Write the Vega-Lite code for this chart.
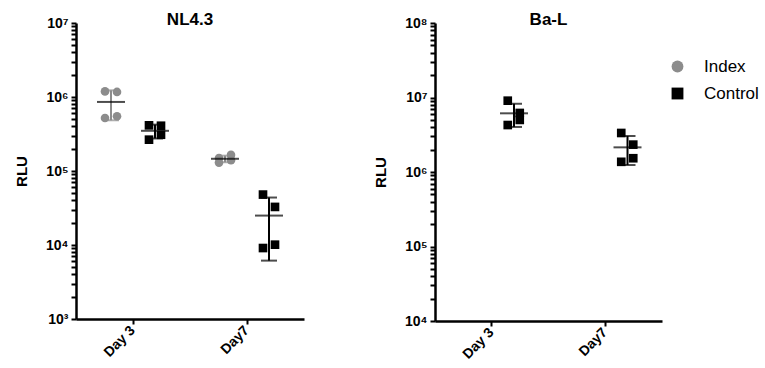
{
  "$schema": "https://vega.github.io/schema/vega-lite/v6.json",
  "background": "white",
  "padding": {"left": 14, "top": 11, "right": 2, "bottom": 5},
  "spacing": 69,
  "config": {
    "font": "Liberation Sans",
    "view": {"stroke": null},
    "axis": {
      "grid": false,
      "domainColor": "black",
      "domainWidth": 2.5,
      "tickColor": "black",
      "tickWidth": 2,
      "tickSize": 5,
      "labelColor": "black",
      "labelFont": "Liberation Sans",
      "labelFontWeight": "bold",
      "labelFontSize": 14,
      "titleColor": "black",
      "titleFont": "Liberation Sans",
      "titleFontWeight": "bold",
      "titleFontSize": 15
    },
    "title": {"font": "Liberation Sans", "fontSize": 17, "fontWeight": "bold", "color": "black", "anchor": "middle"},
    "legend": {"labelFont": "Liberation Sans", "labelFontSize": 17, "labelColor": "black"}
  },
  "datasets": {
    "rlu": [
      {"virus": "NL4.3", "day": "Day 3", "group": "Index", "rep": 1, "rlu": 1190000},
      {"virus": "NL4.3", "day": "Day 3", "group": "Index", "rep": 2, "rlu": 1170000},
      {"virus": "NL4.3", "day": "Day 3", "group": "Index", "rep": 3, "rlu": 520000},
      {"virus": "NL4.3", "day": "Day 3", "group": "Index", "rep": 4, "rlu": 550000},
      {"virus": "NL4.3", "day": "Day 3", "group": "Control", "rep": 1, "rlu": 414000},
      {"virus": "NL4.3", "day": "Day 3", "group": "Control", "rep": 2, "rlu": 409000},
      {"virus": "NL4.3", "day": "Day 3", "group": "Control", "rep": 3, "rlu": 265000},
      {"virus": "NL4.3", "day": "Day 3", "group": "Control", "rep": 4, "rlu": 309000},
      {"virus": "NL4.3", "day": "Day7", "group": "Index", "rep": 1, "rlu": 150000},
      {"virus": "NL4.3", "day": "Day7", "group": "Index", "rep": 2, "rlu": 165000},
      {"virus": "NL4.3", "day": "Day7", "group": "Index", "rep": 3, "rlu": 130000},
      {"virus": "NL4.3", "day": "Day7", "group": "Index", "rep": 4, "rlu": 140000},
      {"virus": "NL4.3", "day": "Day7", "group": "Control", "rep": 1, "rlu": 48000},
      {"virus": "NL4.3", "day": "Day7", "group": "Control", "rep": 2, "rlu": 32700},
      {"virus": "NL4.3", "day": "Day7", "group": "Control", "rep": 3, "rlu": 9100},
      {"virus": "NL4.3", "day": "Day7", "group": "Control", "rep": 4, "rlu": 10100},
      {"virus": "Ba-L", "day": "Day 3", "group": "Control", "rep": 1, "rlu": 9060000},
      {"virus": "Ba-L", "day": "Day 3", "group": "Control", "rep": 2, "rlu": 6200000},
      {"virus": "Ba-L", "day": "Day 3", "group": "Control", "rep": 4, "rlu": 5000000},
      {"virus": "Ba-L", "day": "Day 3", "group": "Control", "rep": 3, "rlu": 4270000},
      {"virus": "Ba-L", "day": "Day7", "group": "Control", "rep": 1, "rlu": 3340000},
      {"virus": "Ba-L", "day": "Day7", "group": "Control", "rep": 2, "rlu": 2330000},
      {"virus": "Ba-L", "day": "Day7", "group": "Control", "rep": 4, "rlu": 1530000},
      {"virus": "Ba-L", "day": "Day7", "group": "Control", "rep": 3, "rlu": 1370000}
    ]
  },
  "hconcat": [
    {
      "title": {"text": "NL4.3", "offset": -13},
      "width": 228,
      "height": 296,
      "data": {"name": "rlu"},
      "transform": [{"filter": "datum.virus === 'NL4.3'"}],
      "encoding": {
        "x": {"field": "day", "type": "nominal", "sort": ["Day 3", "Day7"], "scale": {"type": "band", "paddingInner": 0, "paddingOuter": 0}, "axis": {"title": null, "labelAngle": -45, "labelAlign": "right", "labelBaseline": "middle", "labelPadding": 4}}
      },
      "layer": [
        {
          "transform": [
            {"aggregate": [{"op": "mean", "field": "rlu", "as": "m"}, {"op": "stdev", "field": "rlu", "as": "sd"}], "groupby": ["day", "group"]},
            {"calculate": "datum.m - datum.sd", "as": "lo"},
            {"calculate": "datum.m + datum.sd", "as": "hi"}
          ],
          "encoding": {
            "xOffset": {"field": "group", "type": "nominal", "scale": {"domain": ["Index", "Control"], "paddingInner": 0, "paddingOuter": 0.295}},
            "color": {"condition": {"test": "datum.group === 'Index'", "value": "#8c8c8c"}, "value": "#000000"}
          },
          "layer": [
            {
              "mark": {"type": "rule", "strokeWidth": 2},
              "encoding": {
                "y": {"field": "lo", "type": "quantitative", "title": "RLU",
                  "scale": {"type": "log", "domain": [1000, 10000000], "nice": false},
                  "axis": {"titlePadding": 16, "labelOverlap": false, "labelBound": false, "labelPadding": 3,
                    "values": [1000,2000,3000,4000,5000,6000,7000,8000,9000,10000,20000,30000,40000,50000,60000,70000,80000,90000,100000,200000,300000,400000,500000,600000,700000,800000,900000,1000000,2000000,3000000,4000000,5000000,6000000,7000000,8000000,9000000,10000000],
                    "labelExpr": "abs(log(datum.value)/LN10 - round(log(datum.value)/LN10)) < 0.000001 ? '10' + ['⁰','¹','²','³','⁴','⁵','⁶','⁷','⁸','⁹'][round(log(datum.value)/LN10)] : ''"}},
                "y2": {"field": "hi"}
              }
            },
            {
              "mark": {"type": "tick", "size": 16, "thickness": 2},
              "encoding": {"y": {"field": "lo", "type": "quantitative", "title": "RLU"}}
            },
            {
              "mark": {"type": "tick", "size": 16, "thickness": 2},
              "encoding": {"y": {"field": "hi", "type": "quantitative", "title": "RLU"}}
            }
          ]
        },
        {
          "mark": {"type": "point", "filled": true, "opacity": 1, "size": 75, "xOffset": {"expr": "(datum.group === 'Index' ? -22 : 22) + (datum.rep % 2 == 1 ? -6 : 6)"}},
          "encoding": {
            "y": {"field": "rlu", "type": "quantitative", "title": "RLU"},
            "color": {"field": "group", "type": "nominal", "scale": {"domain": ["Index", "Control"], "range": ["#8c8c8c", "#000000"]}, "legend": {"title": null, "orient": "right", "offset": -28, "padding": 35, "symbolSize": 140, "rowPadding": 9, "labelOffset": 18}},
            "shape": {"field": "group", "type": "nominal", "scale": {"domain": ["Index", "Control"], "range": ["circle", "square"]}, "legend": {"title": null, "orient": "right", "offset": -28, "padding": 35, "symbolSize": 140, "rowPadding": 9, "labelOffset": 18}}
          }
        },
        {
          "transform": [{"aggregate": [{"op": "mean", "field": "rlu", "as": "m"}], "groupby": ["day", "group"]}],
          "mark": {"type": "tick", "size": 28, "thickness": 2, "color": "black"},
          "encoding": {
            "xOffset": {"field": "group", "type": "nominal"},
            "y": {"field": "m", "type": "quantitative", "title": "RLU"}
          }
        }
      ]
    },
    {
      "title": {"text": "Ba-L", "offset": -13},
      "width": 227,
      "height": 298,
      "data": {"name": "rlu"},
      "transform": [{"filter": "datum.virus === 'Ba-L'"}],
      "encoding": {
        "x": {"field": "day", "type": "nominal", "sort": ["Day 3", "Day7"], "scale": {"type": "band", "paddingInner": 0, "paddingOuter": 0}, "axis": {"title": null, "labelAngle": -45, "labelAlign": "right", "labelBaseline": "middle", "labelPadding": 4}}
      },
      "layer": [
        {
          "transform": [
            {"aggregate": [{"op": "mean", "field": "rlu", "as": "m"}, {"op": "stdev", "field": "rlu", "as": "sd"}], "groupby": ["day", "group"]},
            {"calculate": "datum.m - datum.sd", "as": "lo"},
            {"calculate": "datum.m + datum.sd", "as": "hi"}
          ],
          "encoding": {
            "xOffset": {"field": "group", "type": "nominal", "scale": {"domain": ["Index", "Control"], "paddingInner": 0, "paddingOuter": 0.295}},
            "color": {"condition": {"test": "datum.group === 'Index'", "value": "#8c8c8c"}, "value": "#000000"}
          },
          "layer": [
            {
              "mark": {"type": "rule", "strokeWidth": 2},
              "encoding": {
                "y": {"field": "lo", "type": "quantitative", "title": "RLU",
                  "scale": {"type": "log", "domain": [10000, 100000000], "nice": false},
                  "axis": {"titlePadding": 16, "labelOverlap": false, "labelBound": false, "labelPadding": 3,
                    "values": [10000,20000,30000,40000,50000,60000,70000,80000,90000,100000,200000,300000,400000,500000,600000,700000,800000,900000,1000000,2000000,3000000,4000000,5000000,6000000,7000000,8000000,9000000,10000000,20000000,30000000,40000000,50000000,60000000,70000000,80000000,90000000,100000000],
                    "labelExpr": "abs(log(datum.value)/LN10 - round(log(datum.value)/LN10)) < 0.000001 ? '10' + ['⁰','¹','²','³','⁴','⁵','⁶','⁷','⁸','⁹'][round(log(datum.value)/LN10)] : ''"}},
                "y2": {"field": "hi"}
              }
            },
            {
              "mark": {"type": "tick", "size": 16, "thickness": 2},
              "encoding": {"y": {"field": "lo", "type": "quantitative", "title": "RLU"}}
            },
            {
              "mark": {"type": "tick", "size": 16, "thickness": 2},
              "encoding": {"y": {"field": "hi", "type": "quantitative", "title": "RLU"}}
            }
          ]
        },
        {
          "mark": {"type": "point", "filled": true, "opacity": 1, "size": 75, "xOffset": {"expr": "(datum.group === 'Index' ? -22 : 22) + (datum.rep % 2 == 1 ? -6 : 6)"}},
          "encoding": {
            "y": {"field": "rlu", "type": "quantitative", "title": "RLU"},
            "color": {"field": "group", "type": "nominal"},
            "shape": {"field": "group", "type": "nominal"}
          }
        },
        {
          "transform": [{"aggregate": [{"op": "mean", "field": "rlu", "as": "m"}], "groupby": ["day", "group"]}],
          "mark": {"type": "tick", "size": 28, "thickness": 2, "color": "black"},
          "encoding": {
            "xOffset": {"field": "group", "type": "nominal"},
            "y": {"field": "m", "type": "quantitative", "title": "RLU"}
          }
        }
      ]
    }
  ]
}
